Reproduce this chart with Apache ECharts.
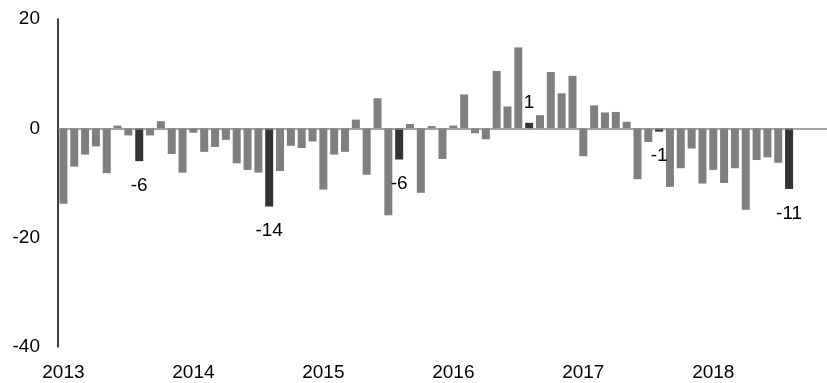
<!DOCTYPE html>
<html>
<head>
<meta charset="utf-8">
<title>Monthly change</title>
<script src="https://cdn.jsdelivr.net/npm/echarts@6/dist/echarts.min.js"></script>
<style>
  html, body { margin: 0; padding: 0; background: #ffffff; }
  #chart { width: 827px; height: 383px; }
</style>
</head>
<body>
<div id="chart"></div>
<script>
// Year span of the category axis (monthly slots, Jan 2013 .. Nov 2018)
const years = [2013, 2014, 2015, 2016, 2017, 2018];
const lastMonthOfFinalYear = 11;

// Monthly values, Jan 2013 .. Aug 2018
const values = [
  -13.8, -7.0, -4.8, -3.3, -8.2, 0.5, -1.3, -6.0, -1.3, 1.3, -4.7, -8.1,
  -0.8, -4.3, -3.4, -2.1, -6.4, -7.6, -8.1, -14.3, -7.8, -3.2, -3.6, -2.4,
  -11.2, -4.8, -4.3, 1.6, -8.5, 5.5, -15.9, -5.7, 0.8, -11.8, 0.4, -5.6,
  0.5, 6.2, -0.9, -2.0, 10.5, 4.0, 14.8, 1.0, 2.4, 10.3, 6.4, 9.6,
  -5.1, 4.2, 2.9, 3.0, 1.2, -9.3, -2.5, -0.6, -10.7, -7.3, -3.7, -10.1,
  -7.6, -10.0, -7.3, -14.9, -5.8, -5.3, -6.3, -11.1
];

// Month highlighted in every year, with its value written out
const highlightMonth = '08';

// Value axis ticks
const yTicks = [-40, -20, 0, 20];

const categories = [];
years.forEach(function (y, yi) {
  const nMonths = yi === years.length - 1 ? lastMonthOfFinalYear : 12;
  for (let m = 1; m <= nMonths; m++) {
    categories.push(y + '-' + String(m).padStart(2, '0'));
  }
});

const GRAY = '#7f7f7f';
const DARK = '#333333';
const FONT = '"Liberation Sans", Arial, sans-serif';
const FONT_SIZE = 19;

const seriesData = categories.map(function (c, i) {
  const v = i < values.length ? values[i] : null;
  const hi = c.slice(5) === highlightMonth && v !== null;
  return {
    value: v,
    itemStyle: { color: hi ? DARK : GRAY },
    label: {
      show: hi,
      position: v !== null && v < 0 ? 'bottom' : 'top',
      distance: v !== null && v < 0 ? 15 : 11
    }
  };
});

const chart = echarts.init(document.getElementById('chart'), null, { renderer: 'canvas' });
chart.setOption({
  animation: false,
  backgroundColor: '#ffffff',
  grid: { left: 58, right: 0, top: 19, bottom: 36, containLabel: false },
  xAxis: {
    type: 'category',
    data: categories,
    boundaryGap: true,
    axisLine: { show: false, onZero: false },
    axisTick: { show: false },
    splitLine: { show: false },
    axisLabel: {
      interval: 11,
      margin: 16,
      color: '#000000',
      fontSize: FONT_SIZE,
      fontFamily: FONT,
      formatter: function (v) { return v.slice(0, 4); }
    }
  },
  yAxis: {
    type: 'value',
    min: yTicks[0],
    max: yTicks[yTicks.length - 1],
    interval: 20,
    axisLine: { show: true, lineStyle: { color: '#000000', width: 1.5 } },
    axisTick: { show: false },
    splitLine: { show: false },
    axisLabel: {
      margin: 18,
      color: '#000000',
      fontSize: FONT_SIZE,
      fontFamily: FONT
    }
  },
  series: [{
    type: 'bar',
    data: seriesData,
    barWidth: 8,
    label: {
      color: '#000000',
      fontSize: FONT_SIZE,
      fontFamily: FONT,
      formatter: function (p) { return String(Math.round(p.value)); }
    },
    markLine: {
      silent: true,
      symbol: 'none',
      label: { show: false },
      lineStyle: { color: '#868686', width: 1.5, type: 'solid' },
      data: [{ yAxis: 0 }]
    }
  }]
});
</script>
</body>
</html>
